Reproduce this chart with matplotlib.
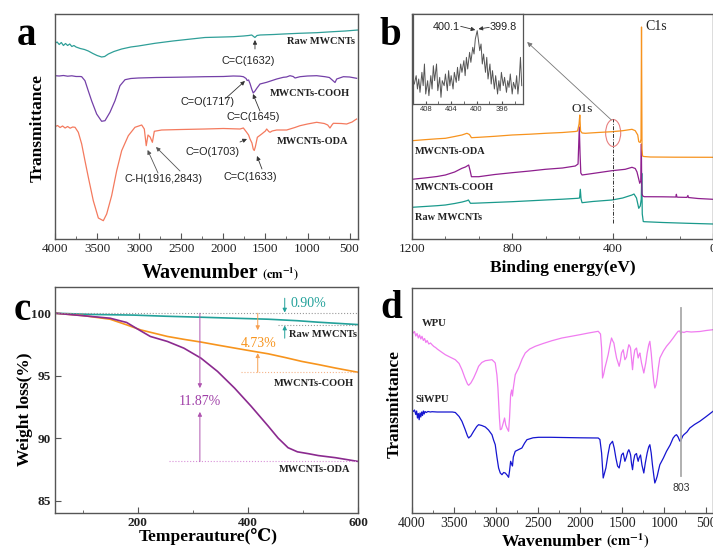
import matplotlib
matplotlib.use('Agg')
import matplotlib.pyplot as plt
from matplotlib.ticker import MultipleLocator
from matplotlib.patches import Ellipse

# ---------------- data ----------------
# (a) FTIR of CNTs (wavenumber, transmittance a.u.)
a_raw = [(4000,195.7),(3975,197),(3950,194.5),(3925,196.5),(3900,193.5),(3875,195.5),(3850,193.5),(3825,195),
         (3800,192.5),(3775,193.5),(3750,192),(3700,190.5),(3650,189.5),(3604,188),(3550,185.5),(3500,183.5),
         (3446,182),(3410,182.5),(3366,185),(3300,187.5),(3208,190),(3100,192),(3010,193),(2812,195.7),
         (2600,198),(2416,199.7),(2218,201.5),(2000,202),(1881,202.3),(1760,203),(1700,203.5),(1663,204),
         (1640,202.5),(1625,201.5),(1600,203.5),(1564,204),(1500,204.2),(1400,204.5),(1287,205),(1100,205.7),
         (891,206.3),(700,207.3),(550,208),(400,209)]
a_cooh = [(4000,163.3),(3950,163),(3900,163.5),(3850,162.8),(3800,163.2),(3750,162.5),(3700,162.5),(3683,162.3),
          (3644,158.3),(3604,148),(3564,138),(3505,125),(3446,117.7),(3406,118.3),(3347,126.7),(3287,138.3),
          (3228,153.3),(3168,159.3),(3100,160.5),(3010,161),(2800,161.5),(2614,161.7),(2400,162),(2218,162.3),
          (2000,162.5),(1881,163),(1800,162.8),(1762,162.3),(1730,160.5),(1717,158.5),(1700,159),(1683,155.5),
          (1663,150),(1645,146),(1624,148),(1600,151),(1564,155),(1485,156.7),(1420,158.5),(1366,160),
          (1287,161.7),(1250,162),(1208,163.3),(1170,162.5),(1148,161),(1089,162.3),(1000,163),(891,163.3),
          (792,162.3),(740,161.5),(693,158),(673,156.5),(653,160),(574,162.3),(500,162),(416,160.7)]
a_oda = [(4000,112.3),(3970,113.5),(3940,111.5),(3910,113),(3880,111),(3850,112.5),(3820,110.8),(3790,112),
         (3762,111.7),(3723,106.7),(3683,95),(3644,78.3),(3604,61.7),(3545,38.3),(3485,21),(3426,18.3),
         (3386,25),(3327,43.3),(3267,68.3),(3208,88.3),(3129,103.3),(3050,111.7),(2970,114),(2939,110),
         (2916,93.3),(2895,104),(2870,102),(2843,96.7),(2820,107.7),(2733,109),(2500,109.5),(2218,110),
         (2000,110.5),(1802,110),(1762,111),(1723,106.7),(1700,104),(1683,100),(1660,96),(1645,90),
         (1633,88.5),(1620,92),(1596,101.7),(1544,105),(1500,108),(1485,110),(1460,107.5),(1445,106.7),
         (1420,108),(1366,109),(1247,109),(1150,111.5),(1089,113.3),(1000,115),(891,116.7),(800,115.5),
         (760,114),(733,111),(710,114),(693,115.7),(600,115.5),(535,115),(470,117),(435,119),(416,120)]

# (b) XPS survey (binding energy, intensity a.u.)
b_oda = [(1200,98.3),(1150,99.3),(1100,100.2),(1067,100.7),(1030,102.5),(1001,104),(981,105.7),(971,104.5),
         (963,101.3),(950,101.5),(934,101.7),(870,102.7),(801,104),(730,104.8),(668,105.7),(600,106.5),
         (549,107.5),(540,108),(534,115),(531,124),(528,108),(522,106),(509,105.7),(460,106.5),(403,107.3),
         (360,108.3),(323,109.7),(310,108.3),(300,104),(296,97.3),(290,96.5),(287,100),(285,212),(283,90),
         (281,83),(276,82.5),(250,82),(150,81.8),(0,81.7)]
b_cooh = [(1200,59.7),(1150,61),(1100,62.5),(1067,64),(1030,67),(1001,70.7),(987,72),(974,74),(968,68),
          (963,62.3),(950,62.3),(934,62.3),(870,64.5),(801,66.3),(730,68),(668,69.7),(600,71),(549,73),
          (538,75),(533,112),(530,85),(527,66),(522,64),(480,65.5),(403,68.3),(350,69.7),(323,71.7),
          (310,70.5),(303,67),(292,55.7),(288,58),(285.5,95),(284.5,60),(283,45),(280,43),(274,42.3),
          (200,42.2),(152,42),(148,42),(146,44.7),(144,42),(140,41.8),(104,41.6),(100,43.5),(98,41.5),
          (60,40.5),(0,39.7)]
b_raw = [(1200,31.7),(1150,32.5),(1100,33.3),(1067,34),(1030,35.5),(1000,37),(981,38.3),(975,39),(967,35.7),
         (950,35.8),(900,36.3),(801,37.3),(730,38.2),(668,39),(600,39.8),(540,40.7),(532,41),(529,49.7),
         (526,40),(522,36.3),(480,37.5),(403,39),(360,41),(323,44),(315,45),(305,41),(296,30.7),(290,33),
         (286,40),(284,65.7),(282,25),(278,17.5),(274,17.3),(200,16.5),(100,15.7),(0,15)]
# inset N1s
ins_E = [409.8,409.5,409.3,409.1,408.9,408.6,408.4,408.2,408.0,407.7,407.5,407.2,407.0,406.8,406.6,406.3,
         406.1,405.8,405.6,405.4,405.1,404.9,404.6,404.4,404.2,404.0,403.7,403.5,403.2,403.0,402.8,402.5,
         402.3,402.0,401.8,401.6,401.4,401.1,400.9,400.6,400.4,400.2,399.9,399.7,399.5,399.3,399.1,398.9,
         398.6,398.4,398.2,397.9,397.7,397.5,397.2,397.0,396.7,396.5,396.3,396.1,395.8,395.6,395.3,395.1,
         394.9,394.7,394.4,394.2,393.9,393.7,393.5,393.3,393.1,392.9]
ins_I = [40,65,25,55,15,75,35,100,10,50,5,65,25,95,50,100,20,60,0,50,35,70,20,80,35,65,25,75,45,90,
         50,100,75,110,65,120,85,135,105,150,130,175,200,170,140,160,100,130,75,120,55,100,40,80,25,65,
         10,50,20,75,35,60,15,50,30,70,10,45,25,65,10,50,120,35]

# (c) TGA (temperature, weight %)
c_raw = [(50,100),(120,99.9),(193,99.85),(250,99.76),(315,99.68),(375,99.6),(437,99.52),(490,99.4),
         (528,99.28),(570,99.17),(600,99.09)]
c_cooh = [(50,100),(101,99.81),(150,99.52),(180,99.07),(205,98.67),(230,98.4),(254,98.14),(285,97.9),
          (315,97.69),(345,97.45),(376,97.21),(406,96.98),(437,96.75),(468,96.45),(498,96.14),(529,95.88),
          (559,95.61),(600,95.27)]
c_oda = [(50,100),(101,99.8),(150,99.6),(180,99.26),(205,98.6),(223,98.14),(254,97.74),(284,97.2),
         (315,96.4),(345,95.34),(376,94.0),(406,92.55),(437,90.96),(455,90.0),(473,89.23),(490,88.9),
         (510,88.75),(528,88.6),(559,88.43),(600,88.13)]
c_final = {'raw': 99.07, 'cooh': 95.27, 'oda': 88.13}
c_loss_text = ['0.90%', '4.73%', '11.87%']

# (d) FTIR WPU / SiWPU
d_wpu = [(4000,182.3),(3985,180),(3970,181.5),(3955,177),(3940,179.5),(3925,175),(3910,178),(3895,174),
         (3881,176.7),(3865,172.5),(3850,174.5),(3835,170.5),(3820,172.5),(3800,169),(3780,170),(3762,168.3),
         (3740,166.5),(3720,165.5),(3700,164),(3650,161),(3604,158.3),(3550,156),(3485,153.3),(3440,149.5),
         (3406,143.3),(3370,135),(3340,129),(3326,127.7),(3300,130),(3267,135),(3230,142),(3208,146.7),
         (3170,150.5),(3128,152.3),(3049,153.3),(3020,151),(3010,150),(2990,138),(2978,125),(2960,95),
         (2950,83.3),(2935,84),(2915,90),(2899,95),(2885,88),(2871,85),(2851,81.7),(2840,95),(2827,118.3),
         (2815,123),(2805,117),(2795,125),(2772,138.3),(2732,145),(2690,154),(2653,160),(2600,164),
         (2534,166.7),(2440,169.5),(2336,172.3),(2217,175),(2100,176.8),(2003,178.3),(1900,180),(1785,181.7),
         (1758,179),(1745,165),(1734,135),(1720,139),(1706,145),(1685,152),(1667,158.3),(1645,168),
         (1627,175),(1612,172),(1599,170),(1585,163),(1567,155),(1536,146.7),(1520,153),(1508,160),
         (1488,163.3),(1468,153.3),(1449,156),(1435,163),(1421,168.3),(1410,167),(1401,165),(1390,155),
         (1377,143.3),(1365,155),(1350,163),(1330,165),(1320,160),(1310,155),(1300,158),(1290,160),
         (1270,150),(1243,140),(1220,150),(1203,160),(1185,168),(1171,171.7),(1155,160),(1140,145),
         (1125,132),(1112,125),(1098,128),(1084,135),(1070,145),(1052,155),(1010,162),(973,166.7),
         (930,171),(894,175),(860,179),(835,181.7),(815,182),(803,179),(795,180.5),(780,181),(767,180.5),
         (735,181.5),(680,181),(577,181.5),(500,182.5),(420,183.3)]
d_siwpu = [(4000,103.3),(3985,101.5),(3970,103),(3955,98.5),(3945,102),(3935,95),(3925,99.5),(3915,93.3),
           (3905,100),(3895,96),(3885,101),(3875,97.5),(3865,102),(3855,99),(3845,101.5),(3830,100.5),
           (3810,101.5),(3780,101),(3762,101.3),(3700,101),(3604,101),(3520,101),(3485,100.5),(3440,96.5),
           (3406,91.7),(3370,84),(3340,77),(3326,75),(3300,77),(3267,81.7),(3230,86.5),(3208,88.3),
           (3170,87.5),(3128,86),(3090,83),(3049,78.3),(3030,73),(3010,68.3),(2990,56),(2970,45),(2950,40),
           (2930,38.3),(2910,40.5),(2891,40),(2870,38),(2851,35.7),(2840,42),(2827,51.7),(2815,49),(2805,47),
           (2795,56),(2772,61.7),(2730,63.5),(2693,65),(2660,70),(2633,73.3),(2560,75.2),(2494,75.7),
           (2350,75.7),(2217,75.5),(2000,75.2),(1785,75),(1765,73.5),(1745,60),(1726,35),(1710,40),(1694,45),
           (1670,58),(1647,68.3),(1615,71.7),(1595,65),(1575,55),(1555,47),(1536,45),(1520,52),(1508,58),
           (1488,60),(1468,51.7),(1450,56),(1435,61),(1421,63.3),(1410,61),(1400,58),(1390,50),(1377,43.3),
           (1365,52),(1350,58),(1330,59.5),(1320,55),(1310,51.7),(1300,55),(1282,58),(1265,48),(1243,40),
           (1225,50),(1203,60),(1185,66),(1171,68.3),(1155,60),(1140,48),(1125,38),(1112,30),(1098,33),
           (1084,36.7),(1070,42),(1052,48.3),(1010,55),(973,61.7),(930,68),(894,75),(870,77.5),(854,78.3),
           (835,76),(815,72),(807,71.7),(795,74),(780,77),(767,78.3),(730,81),(696,85),(640,88.5),
           (577,91.7),(500,96.5),(420,101.7)]
d_mark = 803

# ---------------- styling ----------------
SERIF = ['Liberation Serif', 'DejaVu Serif', 'DejaVu Sans']
SANS = ['Liberation Sans', 'DejaVu Sans']
plt.rcParams['font.family'] = SERIF
plt.rcParams['mathtext.fontset'] = 'stix'

W, H = 713, 549
fig = plt.figure(figsize=(W / 100, H / 100), dpi=100)


def add_ax(l, t, r, b):
    return fig.add_axes([l / W, 1 - b / H, (r - l) / W, (b - t) / H])


def ftext(px, py, s, **kw):
    return fig.text(px / W, 1 - py / H, s, **kw)


def xy(pairs):
    return [p[0] for p in pairs], [p[1] for p in pairs]


def style(ax, lsize=9.5, bold=False):
    for sp in ax.spines.values():
        sp.set_color('#555555')
        sp.set_linewidth(1.0)
    ax.tick_params(which='both', direction='in', colors='#555555', labelcolor='#222222',
                   labelsize=lsize, pad=3)
    ax.tick_params(which='major', length=4)
    ax.tick_params(which='minor', length=2.5)
    if bold:
        for lab in ax.get_xticklabels() + ax.get_yticklabels():
            lab.set_fontweight('bold')


ann_kw = dict(arrowprops=dict(arrowstyle='-|>', color='#333333', lw=0.6, mutation_scale=6,
                              shrinkA=0, shrinkB=0))
ann_gray = dict(arrowprops=dict(arrowstyle='-|>', color='#555555', lw=0.6, mutation_scale=6,
                                shrinkA=0, shrinkB=0))

# ---------------- panel a ----------------
axa = add_ax(55, 14, 358, 239)
axa.plot(*xy(a_raw), color='#2f9f98', lw=0.9)
axa.plot(*xy(a_cooh), color='#7440a8', lw=0.9)
axa.plot(*xy(a_oda), color='#f47a5e', lw=0.9)
axa.set_xlim(4000, 400)
axa.set_ylim(0, 225)
axa.set_yticks([])
axa.xaxis.set_major_locator(MultipleLocator(500))
axa.xaxis.set_minor_locator(MultipleLocator(250))
style(axa, 9.5)
lab_kw = dict(fontsize=7.5, fontweight='bold', color='#222222', ha='right', va='center')
axa.text(436, 198, 'Raw MWCNTs', **lab_kw)
axa.text(495, 146, 'MWCNTs-COOH', **lab_kw)
axa.text(519, 97, 'MWCNTs-ODA', **lab_kw)
sk = dict(fontsize=7.8, family=SANS, color='#222222', ha='center', va='center')
axa.annotate('', xy=(1624, 199), xytext=(1624, 190), **ann_kw)
axa.text(1707, 178.3, 'C=C(1632)', **sk)
axa.annotate('', xy=(1743, 158), xytext=(1980, 140), **ann_kw)
axa.text(2194, 137, 'C=O(1717)', **sk)
axa.annotate('', xy=(1648, 145), xytext=(1565, 128), **ann_kw)
axa.text(1642, 122, 'C=C(1645)', **sk)
axa.annotate('', xy=(1719, 100), xytext=(1802, 97), **ann_kw)
axa.text(2129, 87, 'C=O(1703)', **sk)
axa.annotate('', xy=(1600, 83), xytext=(1541, 70), **ann_kw)
axa.text(1683, 62, 'C=C(1633)', **sk)
axa.annotate('', xy=(2900, 89), xytext=(2776, 66), **ann_gray)
axa.annotate('', xy=(2800, 92), xytext=(2515, 68), **ann_gray)
axa.text(2711, 60, 'C-H(1916,2843)', **sk)

# ---------------- panel b ----------------
axb = add_ax(412, 14, 713, 239)
axb.plot(*xy(b_raw), color='#1a9a8c', lw=0.9)
axb.plot(*xy(b_cooh), color='#8e1f8e', lw=0.9)
axb.plot(*xy(b_oda), color='#f7931e', lw=0.9)
axb.set_xlim(1200, 0)
axb.set_ylim(0, 225)
axb.set_yticks([])
axb.xaxis.set_major_locator(MultipleLocator(400))
axb.xaxis.set_minor_locator(MultipleLocator(400 / 3))
style(axb, 9.5)
blab = dict(fontsize=7.4, fontweight='bold', color='#222222', ha='left', va='center')
axb.text(1188, 88, 'MWCNTs-ODA', **blab)
axb.text(1188, 52, 'MWCNTs-COOH', **blab)
axb.text(1188, 22, 'Raw MWCNTs', **blab)
axb.text(522, 130, 'O1s', fontsize=9.5, ha='center', va='center', color='#222222')
axb.text(227, 212, 'C1s', fontsize=10, ha='center', va='center', color='#222222')
axb.plot([400, 400], [16, 120], color='#333333', lw=0.7, ls=(0, (4, 1.5, 1, 1.5)))
axb.add_patch(Ellipse((398, 106), width=60, height=27, fill=False, edgecolor='#e88080', lw=0.8))
axb.annotate('', xy=(741, 197), xytext=(405, 119),
             arrowprops=dict(arrowstyle='-|>', color='#777777', lw=0.6, mutation_scale=7,
                             shrinkA=0, shrinkB=0))

# inset
axi = add_ax(413, 14, 523, 104)
axi.plot(ins_E, ins_I, color='#555555', lw=0.7)
axi.set_xlim(410, 392.7)
axi.set_ylim(-20, 250)
axi.set_yticks([])
axi.xaxis.set_major_locator(MultipleLocator(4))
axi.xaxis.set_minor_locator(MultipleLocator(2))
for sp in axi.spines.values():
    sp.set_color('#555555')
    sp.set_linewidth(0.9)
axi.tick_params(which='both', direction='in', colors='#555555', labelcolor='#333333',
                labelsize=5.5, pad=1.5, length=2.5)
for lab in axi.get_xticklabels():
    lab.set_fontfamily(SANS)
axi.text(402.7, 209.5, '400.1', fontsize=7.8, family=SANS, ha='right', va='center', color='#222222')
axi.annotate('', xy=(400.2, 202), xytext=(402.5, 213), **ann_kw)
axi.text(397.9, 209.5, '399.8', fontsize=7.8, family=SANS, ha='left', va='center', color='#222222')
axi.annotate('', xy=(399.7, 205), xytext=(398.0, 210), **ann_kw)

# ---------------- panel c ----------------
axc = add_ax(55, 287, 358, 513)
col_t, col_o, col_p = '#22a19a', '#f7941d', '#8b2a8f'
axc.plot(*xy(c_raw), color=col_t, lw=1.2)
axc.plot(*xy(c_cooh), color=col_o, lw=1.2)
axc.plot(*xy(c_oda), color=col_p, lw=1.2)
axc.set_xlim(50, 600)
axc.set_ylim(84.0, 102.1)
axc.xaxis.set_major_locator(MultipleLocator(200))
axc.xaxis.set_minor_locator(MultipleLocator(100))
axc.yaxis.set_major_locator(MultipleLocator(5))
style(axc, 9.5, bold=True)
axc.plot([50, 600], [100, 100], color='#999999', ls=':', lw=0.8)
axc.plot([455, 600], [c_final['raw'], c_final['raw']], color='#999999', ls=':', lw=0.8)
axc.plot([388, 600], [c_final['cooh'], c_final['cooh']], color='#f5b48a', ls=':', lw=0.8)
axc.plot([257, 600], [c_final['oda'], c_final['oda']], color='#d890d8', ls=':', lw=0.8)


def varrow(x, y0, y1, c):
    axc.annotate('', xy=(x, y1), xytext=(x, y0),
                 arrowprops=dict(arrowstyle='-|>', color=c, lw=0.7, mutation_scale=6,
                                 shrinkA=0, shrinkB=0))


varrow(467, 101.2, 100.05, col_t)
varrow(467, 98.0, 99.02, col_t)
varrow(418, 100, 98.64, '#f7a050')
varrow(418, c_final['cooh'], 96.8, '#f7a050')
varrow(313, 100, 94.0, '#b055b0')
varrow(313, c_final['oda'], 92.1, '#b055b0')
axc.text(478, 100.8, c_loss_text[0], fontsize=10, color=col_t, ha='left', va='center')
axc.text(419, 97.55, c_loss_text[1], fontsize=10, color=col_o, ha='center', va='center')
axc.text(313, 92.9, c_loss_text[2], fontsize=10, color='#a040a8', ha='center', va='center')
clab = dict(fontsize=7.5, fontweight='bold', color='#222222', ha='right', va='center')
axc.text(598, 98.3, 'Raw MWCNTs', **clab)
axc.text(593, 94.4, 'MWCNTs-COOH', **clab)
axc.text(587, 87.45, 'MWCNTs-ODA', **clab)

# ---------------- panel d ----------------
axd = add_ax(412, 288, 713, 513)
axd.plot(*xy(d_wpu), color='#f07cf0', lw=0.9)
axd.plot(*xy(d_siwpu), color='#1515d0', lw=0.9)
axd.set_xlim(4000, 420)
axd.set_ylim(0, 225)
axd.set_yticks([])
axd.xaxis.set_major_locator(MultipleLocator(500))
axd.xaxis.set_minor_locator(MultipleLocator(250))
style(axd, 10)
axd.plot([d_mark, d_mark], [36.7, 205], color='#aaaaaa', lw=1.3)
axd.text(d_mark, 25, str(d_mark), fontsize=7.6, family=SANS, color='#333333', ha='center', va='center')
axd.text(3881, 189, 'WPU', fontsize=7.7, fontweight='bold', color='#222222', ha='left', va='center')
axd.text(3964, 113.5, 'SiWPU', fontsize=7.7, fontweight='bold', color='#222222', ha='left', va='center')

# ---------------- axis labels / panel letters ----------------
t1 = ftext(142, 278, 'Wavenumber', fontsize=14.5, fontweight='bold', ha='left', va='baseline')
ftext(38, 128, 'Transmittance', fontsize=12.5, fontweight='bold', rotation=90, ha='center', va='center')
ftext(563, 272, 'Binding energy(eV)', fontsize=12.5, fontweight='bold', ha='center', va='baseline')
ftext(208, 541, 'Temperauture(℃)', fontsize=12.5, fontweight='bold', ha='center', va='baseline')
ftext(25, 409, 'Weight loss(%)', fontsize=12.5, fontweight='bold', rotation=90, ha='center', va='center')
t2 = ftext(502, 546, 'Wavenumber', fontsize=12.5, fontweight='bold', ha='left', va='baseline')
ftext(395, 404, 'Transmittance', fontsize=12.5, fontweight='bold', rotation=90, ha='center', va='center')

ftext(27, 45, 'a', fontsize=28, fontweight='bold', ha='center', va='baseline')
ftext(390, 45, 'b', fontsize=28, fontweight='bold', ha='center', va='baseline')
ftext(22, 320, 'c', fontsize=28, fontweight='bold', ha='center', va='baseline')
ftext(391, 318, 'd', fontsize=28, fontweight='bold', ha='center', va='baseline')

# place "(cm-1)" right after the Wavenumber words
fig.canvas.draw()
rend = fig.canvas.get_renderer()
for tt, fs in ((t1, 9), (t2, 10.5)):
    bb = tt.get_window_extent(rend)
    x0 = (bb.x1 + 3) / W
    _, y0 = tt.get_position()
    fig.text(x0, y0, r'$\mathbf{(cm^{-1})}$', fontsize=fs, ha='left', va='baseline')

fig.savefig('out.png', dpi=100)
